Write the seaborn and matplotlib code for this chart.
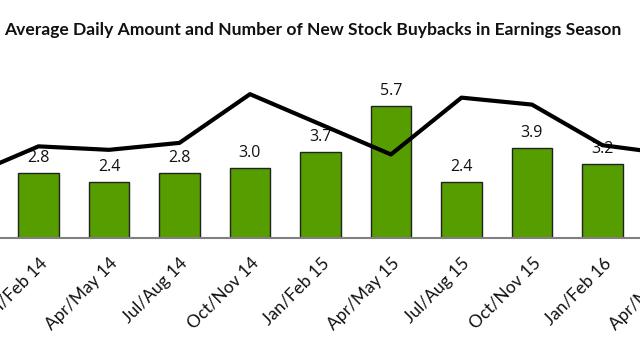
import numpy as np
import pandas as pd
import seaborn as sns
import matplotlib.pyplot as plt

# --- Data ---
SEASONS = ["Oct/Nov 13", "Jan/Feb 14", "Apr/May 14", "Jul/Aug 14", "Oct/Nov 14",
           "Jan/Feb 15", "Apr/May 15", "Jul/Aug 15", "Oct/Nov 15", "Jan/Feb 16",
           "Apr/May 16"]
# average daily amount ($bn) -> bars
AVG_AMOUNT = [3.1, 2.8, 2.4, 2.8, 3.0, 3.7, 5.7, 2.4, 3.9, 3.2, 3.3]
# average daily number of new buybacks -> line (secondary axis)
AVG_NUMBER = [5.3, 7.9, 7.6, 8.2, 12.4, 9.8, 7.2, 12.1, 11.5, 8.0, 7.2]

TITLE = "Average Daily Amount and Number of New Stock Buybacks in Earnings Season"
BAR_COLOR = "#569E00"
OUTPUT_PNG_FILENAME = "out.png"


def main():
    sns.set_theme(style="white")
    plt.rcParams["font.family"] = ["Lato", "DejaVu Sans"]

    df = pd.DataFrame({"season": SEASONS, "amount": AVG_AMOUNT,
                       "number": AVG_NUMBER, "pos": np.arange(len(SEASONS))})

    fig = plt.figure(figsize=(6.4, 3.6), dpi=100)
    # the reference is a crop of a wider chart, so the axes run past the edges
    ax = fig.add_axes([-0.1051, 0.3389, 1.2117, 0.4511])

    sns.barplot(data=df, x="season", y="amount", color=BAR_COLOR, width=0.58,
                saturation=1, edgecolor="#222222", linewidth=1, ax=ax)
    ax.bar_label(ax.containers[0], fmt="%.1f", padding=5, fontsize=11.5,
                 family="Open Sans", color="#111111")
    ax.set_xlim(-0.5, len(SEASONS) - 0.5)
    ax.set_ylim(0, 7)
    ax.set_xlabel("")
    ax.set_ylabel("")
    ax.set_yticks([])
    for side in ["top", "right", "left"]:
        ax.spines[side].set_visible(False)
    ax.spines["bottom"].set_color("#808080")
    ax.spines["bottom"].set_linewidth(1.5)
    ax.tick_params(axis="x", length=0, pad=12)
    plt.setp(ax.get_xticklabels(), rotation=45, ha="right",
             rotation_mode="anchor", fontsize=12.5, color="#111111")

    ax2 = ax.twinx()
    sns.lineplot(data=df, x="pos", y="number", color="black", linewidth=3,
                 ax=ax2)
    ax2.set_ylim(0, 14)
    ax2.set_yticks([])
    ax2.set_ylabel("")
    ax2.set_xlim(-0.5, len(SEASONS) - 0.5)
    for side in ["top", "right", "left", "bottom"]:
        ax2.spines[side].set_visible(False)

    fig.text(0.489, 0.917, TITLE, ha="center", va="center", fontsize=12.6,
             fontweight="bold", color="#111111")

    fig.savefig(OUTPUT_PNG_FILENAME, dpi=100)
    print(f"Plot saved as {OUTPUT_PNG_FILENAME}")


if __name__ == "__main__":
    main()
